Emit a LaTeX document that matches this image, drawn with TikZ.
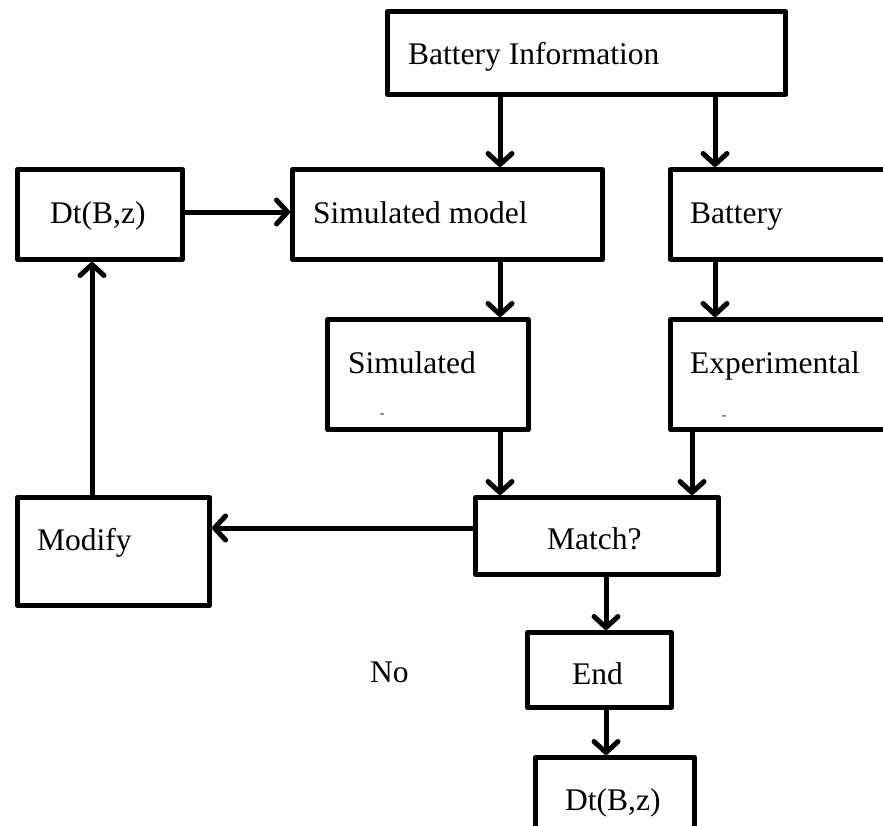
\documentclass[tikz,border=0pt]{standalone}
\usepackage{fontspec}
\setmainfont{Liberation Serif}
\usetikzlibrary{arrows.meta}
\begin{document}
\begin{tikzpicture}[x=1pt,y=-1pt,
  box/.style={draw, line width=5pt, line join=round, rectangle, anchor=north west, inner sep=0pt},
  lbl/.style={anchor=base west, inner sep=0pt, font=\fontsize{31.5}{37}\selectfont},
  frag/.style={anchor=base west, inner sep=0pt, font=\fontsize{13}{14}\selectfont},
  arr/.style={line width=5pt, line cap=round, line join=round,
    -{Straight Barb[length=11pt,width=24pt,line cap=round,line join=round]}}]
\useasboundingbox (0,0) rectangle (883,825);
\clip (0,0) rectangle (883,825);

% columns and rows used by the connectors
\coordinate (colA) at (500,0);
\coordinate (colB) at (715,0);
\coordinate (colC) at (692,0);
\coordinate (colD) at (606,0);
\coordinate (colE) at (92,0);
\coordinate (rowA) at (0,212);
\coordinate (rowB) at (0,528);

% boxes
\node[box, minimum width=398pt, minimum height=83pt] (info) at (385,9) {};
\node[box, minimum width=165pt, minimum height=90pt] (dt1) at (15,167) {};
\node[box, minimum width=310pt, minimum height=90pt] (sim) at (290,167) {};
\node[box, minimum width=240pt, minimum height=90pt] (bat) at (668,167) {};
\node[box, minimum width=201pt, minimum height=110pt] (simd) at (325,317) {};
\node[box, minimum width=240pt, minimum height=110pt] (exp) at (668,317) {};
\node[box, minimum width=243pt, minimum height=77pt] (match) at (473,495) {};
\node[box, minimum width=192pt, minimum height=108pt] (modify) at (15,495) {};
\node[box, minimum width=144pt, minimum height=75pt] (end) at (525,630) {};
\node[box, minimum width=159pt, minimum height=90pt] (dt2) at (533,755) {};

% texts
\node[lbl] (tinfo) at (408,64) {Battery Information};
\node[lbl] (tdt1) at (50,223) {Dt(B,z)};
\node[lbl] (tsim) at (313,223) {Simulated model};
\node[lbl] (tbat) at (690,223) {Battery};
\node[lbl] (tsimd) at (348,373) {Simulated};
\node[lbl] (texp) at (690,373) {Experimental};
\node[frag] (fsimd) at (380,417) {-};
\node[frag] (fexp) at (722,419) {-};
\node[lbl] (tmatch) at (547,549) {Match?};
\node[lbl] (tmodify) at (37,550) {Modify};
\node[lbl] (tend) at (572,684) {End};
\node[lbl] (tdt2) at (565,810) {Dt(B,z)};
\node[lbl] (tno) at (370,682) {No};

% connectors
\draw[arr] (info.south -| colA) -- (sim.north -| colA);
\draw[arr] (info.south -| colB) -- (bat.north -| colB);
\draw[arr] (dt1.east |- rowA) -- (sim.west |- rowA);
\draw[arr] (sim.south -| colA) -- (simd.north -| colA);
\draw[arr] (bat.south -| colB) -- (exp.north -| colB);
\draw[arr] (simd.south -| colA) -- (match.north -| colA);
\draw[arr] (exp.south -| colC) -- (match.north -| colC);
\draw[arr] (match.west |- rowB) -- (modify.east |- rowB);
\draw[arr] (modify.north -| colE) -- (dt1.south -| colE);
\draw[arr] (match.south -| colD) -- (end.north -| colD);
\draw[arr] (end.south -| colD) -- (dt2.north -| colD);
\end{tikzpicture}
\end{document}
